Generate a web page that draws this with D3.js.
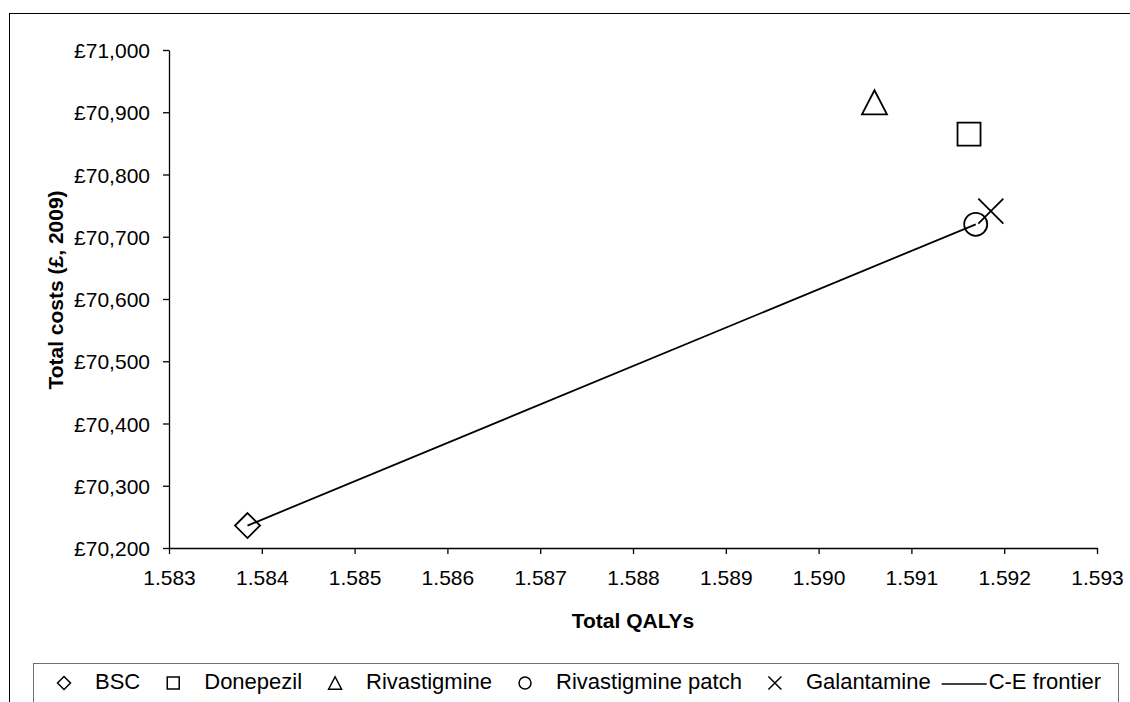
<!DOCTYPE html>
<html>
<head>
<meta charset="utf-8">
<script src="https://cdn.jsdelivr.net/npm/d3@7"></script>
<style>
  html, body { margin: 0; padding: 0; background: #fff; }
  svg { display: block; font-family: "Liberation Sans", Arial, sans-serif; }
</style>
</head>
<body>
<svg id="chart" width="1130" height="702"></svg>
<script>
// Cost-effectiveness plane: total QALYs vs total costs per treatment
const treatments = ["BSC", "Donepezil", "Rivastigmine", "Rivastigmine patch", "Galantamine"];
const markerShapes = ["diamond", "square", "triangle", "circle", "cross"];
const totalQALYs = [1.583846, 1.591621, 1.590602, 1.591693, 1.591856];
const totalCosts = [70236, 70865, 70916, 70720, 70741];
// Treatments lying on the cost-effectiveness frontier, in order
const frontierTreatments = ["BSC", "Rivastigmine patch"];
const frontierLabel = "C-E frontier";

const xTicks = [1.583, 1.584, 1.585, 1.586, 1.587, 1.588, 1.589, 1.590, 1.591, 1.592, 1.593];
const yTicks = [70200, 70300, 70400, 70500, 70600, 70700, 70800, 70900, 71000];
const xTitle = "Total QALYs";
const yTitle = "Total costs (£, 2009)";

const svg = d3.select("#chart");
const W = 1130, H = 702;
const plot = { left: 169, right: 1097, top: 50, bottom: 548 };
const FONT = 21;
const LEGEND_FONT = 22;

// Outer chart frame (runs off the right and bottom edges)
svg.append("rect")
  .attr("x", 9.5).attr("y", 13.5)
  .attr("width", W + 20).attr("height", H + 20)
  .attr("fill", "none").attr("stroke", "#000").attr("stroke-width", 1);

const x = d3.scaleLinear().domain([1.583, 1.593]).range([plot.left, plot.right]);
const y = d3.scaleLinear().domain([70200, 71000]).range([plot.bottom, plot.top]);

const gbp = d3.format(",.0f");

// X axis
const xAxis = svg.append("g")
  .attr("transform", `translate(0,${plot.bottom})`)
  .call(d3.axisBottom(x).tickValues(xTicks).tickFormat(d3.format(".3f")).tickSizeInner(6).tickSizeOuter(0).tickPadding(16));
// Y axis
const yAxis = svg.append("g")
  .attr("transform", `translate(${plot.left},0)`)
  .call(d3.axisLeft(y).tickValues(yTicks).tickFormat(d => "£" + gbp(d)).tickSizeInner(6).tickSizeOuter(0).tickPadding(13));

[xAxis, yAxis].forEach(g => {
  g.select(".domain").attr("stroke", "#000").attr("stroke-width", 1.3);
  g.selectAll(".tick line").attr("stroke", "#000").attr("stroke-width", 1.3);
  g.selectAll(".tick text")
    .attr("fill", "#000")
    .style("font-size", FONT + "px")
    .style("font-family", "\"Liberation Sans\", Arial, sans-serif");
});
yAxis.selectAll(".tick text").attr("dy", "0.36em");

// Axis titles
svg.append("text")
  .attr("x", (plot.left + plot.right) / 2).attr("y", 628)
  .attr("text-anchor", "middle")
  .style("font-size", FONT + "px").style("font-weight", "bold")
  .text(xTitle);
svg.append("text")
  .attr("transform", "translate(63,290) rotate(-90)")
  .attr("text-anchor", "middle")
  .style("font-size", FONT + "px").style("font-weight", "bold")
  .text(yTitle);

// Marker path generator, centred on the origin
function markerPath(shape, s) {
  const p = d3.path();
  if (shape === "diamond") {
    p.moveTo(0, -s); p.lineTo(s, 0); p.lineTo(0, s); p.lineTo(-s, 0); p.closePath();
  } else if (shape === "square") {
    const h = s * 0.92;
    p.rect(-h, -h, 2 * h, 2 * h);
  } else if (shape === "triangle") {
    p.moveTo(0, -s * 0.96); p.lineTo(s, s * 0.96); p.lineTo(-s, s * 0.96); p.closePath();
  } else if (shape === "circle") {
    const r = s * 0.92;
    p.moveTo(r, 0); p.arc(0, 0, r, 0, 2 * Math.PI);
  } else if (shape === "cross") {
    p.moveTo(-s, -s); p.lineTo(s, s); p.moveTo(s, -s); p.lineTo(-s, s);
  }
  return p.toString();
}

// Frontier line through the non-dominated treatments
const frontierPts = frontierTreatments.map(t => {
  const i = treatments.indexOf(t);
  return [totalQALYs[i], totalCosts[i]];
});
svg.append("path")
  .attr("d", d3.line().x(d => x(d[0])).y(d => y(d[1]))(frontierPts))
  .attr("fill", "none").attr("stroke", "#000").attr("stroke-width", 1.8);

// Treatment markers
svg.append("g").selectAll("path")
  .data(treatments.map((t, i) => ({ t, shape: markerShapes[i], q: totalQALYs[i], c: totalCosts[i] })))
  .join("path")
  .attr("transform", d => `translate(${x(d.q)},${y(d.c)})`)
  .attr("d", d => markerPath(d.shape, 12.5))
  .attr("fill", "none").attr("stroke", "#000").attr("stroke-width", 1.8);

// Legend
const legendTop = 663;
svg.append("rect")
  .attr("x", 33.5).attr("y", legendTop + 0.5)
  .attr("width", 1085).attr("height", 60)
  .attr("fill", "#fff").attr("stroke", "#6e6e6e").attr("stroke-width", 1);

const lg = svg.append("g");
const baseY = 689, markY = 683;
let cx = 64;
treatments.forEach((t, i) => {
  lg.append("path")
    .attr("transform", `translate(${cx},${markY})`)
    .attr("d", markerPath(markerShapes[i], 6.5))
    .attr("fill", "none").attr("stroke", "#000").attr("stroke-width", 1.5);
  const txt = lg.append("text")
    .attr("x", cx + 31).attr("y", baseY)
    .style("font-size", LEGEND_FONT + "px")
    .text(t);
  cx = cx + 31 + txt.node().getComputedTextLength() + 33;
});
// Frontier line entry
const lineStart = cx - 33 + 11;
lg.append("line")
  .attr("x1", lineStart).attr("x2", lineStart + 45)
  .attr("y1", markY + 1).attr("y2", markY + 1)
  .attr("stroke", "#000").attr("stroke-width", 1.5);
lg.append("text")
  .attr("x", lineStart + 47).attr("y", baseY)
  .style("font-size", LEGEND_FONT + "px")
  .text(frontierLabel);
</script>
</body>
</html>
